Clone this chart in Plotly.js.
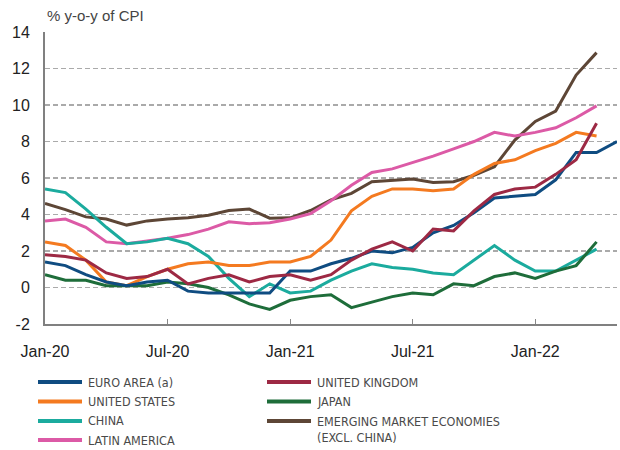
<!DOCTYPE html>
<html>
<head>
<meta charset="utf-8">
<script src="https://cdn.plot.ly/plotly-3.0.1.min.js"></script>
<style>
  html, body { margin: 0; padding: 0; background: #fff; }
  #chart { width: 620px; height: 450px; }
</style>
</head>
<body>
<div id="chart"></div>
<script>
// ---- Data ----
var months = ['Jan-20','Feb-20','Mar-20','Apr-20','May-20','Jun-20','Jul-20','Aug-20','Sep-20','Oct-20','Nov-20','Dec-20',
              'Jan-21','Feb-21','Mar-21','Apr-21','May-21','Jun-21','Jul-21','Aug-21','Sep-21','Oct-21','Nov-21','Dec-21',
              'Jan-22','Feb-22','Mar-22','Apr-22','May-22'];
var xTicks = ['Jan-20','Jul-20','Jan-21','Jul-21','Jan-22'];
var yTicks = [-2, 0, 2, 4, 6, 8, 10, 12, 14];
var yTickText = ['-2', '0', '2', '4', '6', '8', '10', '12', '14'];

var euroArea = [1.4, 1.2, 0.7, 0.3, 0.1, 0.3, 0.4, -0.2, -0.3, -0.3, -0.3, -0.3,
                0.9, 0.9, 1.3, 1.6, 2.0, 1.9, 2.2, 3.0, 3.4, 4.1, 4.9, 5.0,
                5.1, 5.9, 7.4, 7.4, 8.0];
var unitedStates = [2.5, 2.3, 1.5, 0.3, 0.1, 0.6, 1.0, 1.3, 1.4, 1.2, 1.2, 1.4,
                    1.4, 1.7, 2.6, 4.2, 5.0, 5.4, 5.4, 5.3, 5.4, 6.2, 6.8, 7.0,
                    7.5, 7.9, 8.5, 8.3];
var china = [5.4, 5.2, 4.3, 3.3, 2.4, 2.5, 2.7, 2.4, 1.7, 0.5, -0.5, 0.2,
             -0.3, -0.2, 0.4, 0.9, 1.3, 1.1, 1.0, 0.8, 0.7, 1.5, 2.3, 1.5,
             0.9, 0.9, 1.5, 2.1];
var latinAmerica = [3.65, 3.75, 3.3, 2.5, 2.4, 2.55, 2.7, 2.9, 3.2, 3.6, 3.5, 3.55,
                    3.75, 4.05, 4.75, 5.6, 6.3, 6.5, 6.85, 7.2, 7.6, 8.0, 8.5, 8.3,
                    8.5, 8.75, 9.3, 9.95];
var unitedKingdom = [1.8, 1.7, 1.5, 0.8, 0.5, 0.6, 1.0, 0.2, 0.5, 0.7, 0.3, 0.6,
                     0.7, 0.4, 0.7, 1.5, 2.1, 2.5, 2.0, 3.2, 3.1, 4.2, 5.1, 5.4,
                     5.5, 6.2, 7.0, 9.0];
var japan = [0.7, 0.4, 0.4, 0.1, 0.1, 0.1, 0.3, 0.2, 0.0, -0.4, -0.9, -1.2,
             -0.7, -0.5, -0.4, -1.1, -0.8, -0.5, -0.3, -0.4, 0.2, 0.1, 0.6, 0.8,
             0.5, 0.9, 1.2, 2.5];
var emergingMarkets = [4.6, 4.27, 3.87, 3.75, 3.42, 3.65, 3.75, 3.82, 3.96, 4.22, 4.3, 3.8,
                       3.82, 4.22, 4.8, 5.16, 5.8, 5.88, 5.95, 5.76, 5.8, 6.15, 6.62, 8.08,
                       9.1, 9.67, 11.64, 12.87];

var seriesNames = ['EURO AREA (a)', 'UNITED STATES', 'CHINA', 'LATIN AMERICA',
                   'UNITED KINGDOM', 'JAPAN', 'EMERGING MARKET ECONOMIES<br>(EXCL. CHINA)'];
var seriesValues = [euroArea, unitedStates, china, latinAmerica, unitedKingdom, japan, emergingMarkets];
var seriesColors = ['#0f4c81', '#f47a20', '#1bab9e', '#dc5aa6', '#9d2944', '#1e6d3a', '#5d4636'];

// ---- Geometry helpers for layout (pixel -> paper) ----
var W = 620, H = 450;
var M = {l: 45, r: 3, t: 32, b: 126};
var PW = W - M.l - M.r, PH = H - M.t - M.b;
function px(x) { return (x - M.l) / PW; }
function py(y) { return (H - M.b - y) / PH; }

var drawOrder = [6, 3, 2, 1, 5, 0, 4];
var traces = drawOrder.map(function (i) {
  return {
    type: 'scatter',
    mode: 'lines',
    x: months.slice(0, seriesValues[i].length),
    y: seriesValues[i],
    name: seriesNames[i],
    line: {color: seriesColors[i], width: 3},
    showlegend: false,
    hoverinfo: 'skip'
  };
});

// ---- Custom two-column legend ----
var legendCols = [[0, 1, 2, 3], [4, 5, 6]];
var legendColX = [38, 267];
var legendRowY = [382, 401.5, 421, 440];
var shapes = [], annotations = [];
legendCols.forEach(function (col, c) {
  col.forEach(function (si, r) {
    var lx = legendColX[c], ly = legendRowY[r];
    shapes.push({
      type: 'line', xref: 'paper', yref: 'paper',
      x0: px(lx), x1: px(lx + 44), y0: py(ly), y1: py(ly),
      line: {color: seriesColors[si], width: 4}
    });
    annotations.push({
      xref: 'paper', yref: 'paper',
      x: px(lx + 48), y: py(ly), xanchor: 'left', yanchor: si === 6 ? 'top' : 'middle',
      yshift: si === 6 ? 9 : 0,
      text: seriesNames[si], showarrow: false, align: 'left',
      font: {family: '"Liberation Sans Narrow", "DejaVu Sans Condensed", sans-serif', size: 12.5, color: '#4a4a4a'}
    });
  });
});

annotations.push({
  xref: 'paper', yref: 'paper', x: 0, y: 1, xanchor: 'left', yanchor: 'middle', yshift: 17,
  text: '% y-o-y of CPI', showarrow: false,
  font: {family: '"Liberation Sans", Arial, sans-serif', size: 15, color: '#444'}
});

var layout = {
  width: W, height: H,
  margin: M,
  paper_bgcolor: '#fff', plot_bgcolor: '#fff',
  font: {family: '"Liberation Sans", Arial, sans-serif', color: '#222'},
  showlegend: false,
  xaxis: {
    type: 'category',
    categoryorder: 'array', categoryarray: months,
    range: [0, 28],
    tickmode: 'array', tickvals: xTicks, ticktext: xTicks,
    ticks: 'inside', ticklen: 5, tickwidth: 1, tickcolor: '#888',
    showline: true, linecolor: '#808080', linewidth: 2,
    showgrid: false, zeroline: false,
    tickfont: {size: 16, color: '#222'},
    ticklabelstandoff: 12,
    fixedrange: true
  },
  yaxis: {
    range: [-2, 14],
    tickmode: 'array', tickvals: yTicks, ticktext: yTickText,
    ticks: '', showline: true, linecolor: '#808080', linewidth: 2,
    showgrid: true, gridcolor: '#aaaaaa', gridwidth: 1.2, griddash: '5px,3px',
    zeroline: false,
    tickfont: {size: 16, color: '#222'},
    ticklabelstandoff: 10,
    fixedrange: true
  },
  shapes: shapes,
  annotations: annotations
};

Plotly.newPlot('chart', traces, layout, {staticPlot: true, displayModeBar: false});
</script>
</body>
</html>
